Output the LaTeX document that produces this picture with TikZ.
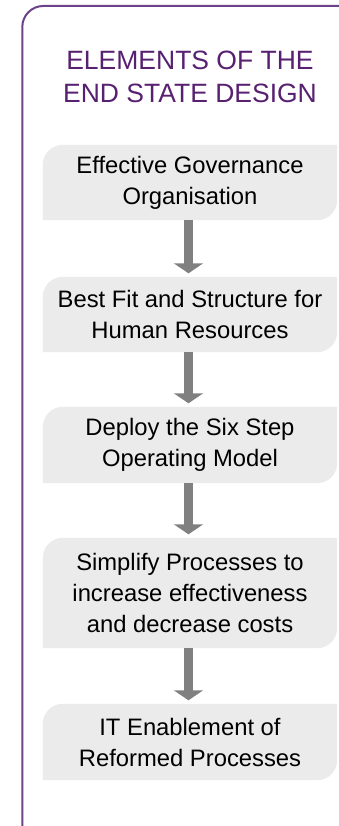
\documentclass[tikz,border=0pt]{standalone}
\usepackage{fontspec}
\setmainfont{Liberation Sans}
\usetikzlibrary{arrows.meta,backgrounds}
\definecolor{framepurple}{RGB}{108,66,138}
\definecolor{titlepurple}{RGB}{88,32,112}
\definecolor{boxgray}{RGB}{235,235,235}
\definecolor{arrowgray}{RGB}{128,128,128}
\begin{document}
\begin{tikzpicture}[x=1pt,y=1pt,
  stepbox/.style={minimum width=294pt, inner sep=0pt, align=center,
    font=\fontsize{23.8pt}{31pt}\selectfont, text=black},
  flowarrow/.style={draw=arrowgray, line width=9pt,
    -{Triangle[width=29pt,length=10pt]}, shorten >=3.5pt}]
\useasboundingbox (0,0) rectangle (339,826);
% frame
\draw[framepurple, line width=2pt] (22.3,-2) -- (22.3,799)
  arc[start angle=180,end angle=90,radius=21] -- (341,820);
% title
\node[font=\fontsize{26.5pt}{33pt}\selectfont, text=titlepurple, align=center, inner sep=0pt]
  (title) at (190,749) {ELEMENTS OF THE\\END STATE DESIGN};
% boxes
\node[stepbox, minimum height=75pt] (b1) at (190,643.5) {Effective Governance\\Organisation};
\node[stepbox, minimum height=75pt] (b2) at (190,511.5) {Best Fit and Structure for\\Human Resources};
\node[stepbox, minimum height=76pt] (b3) at (190,381) {Deploy the Six Step\\Operating Model};
\node[stepbox, minimum height=110pt] (b4) at (190,233) {Simplify Processes to\\increase effectiveness\\and decrease costs};
\node[stepbox, minimum height=76pt] (b5) at (190,84) {IT Enablement of\\Reformed Processes};
\begin{scope}[on background layer]
\foreach \n in {b1,b2,b3,b4,b5}{
  \fill[boxgray] (\n.south west) -- ([yshift=-20pt]\n.north west)
    arc[start angle=180,end angle=90,radius=20pt] -- (\n.north east)
    -- ([yshift=20pt]\n.south east)
    arc[start angle=0,end angle=-90,radius=20pt] -- cycle;
}
\end{scope}
% arrows
\draw[flowarrow] ([xshift=-1.5pt]b1.south) -- ([xshift=-1.5pt]b2.north);
\draw[flowarrow] ([xshift=-1.5pt]b2.south) -- ([xshift=-1.5pt]b3.north);
\draw[flowarrow] ([xshift=-1.5pt]b3.south) -- ([xshift=-1.5pt]b4.north);
\draw[flowarrow] ([xshift=-1.5pt]b4.south) -- ([xshift=-1.5pt]b5.north);
\end{tikzpicture}
\end{document}
